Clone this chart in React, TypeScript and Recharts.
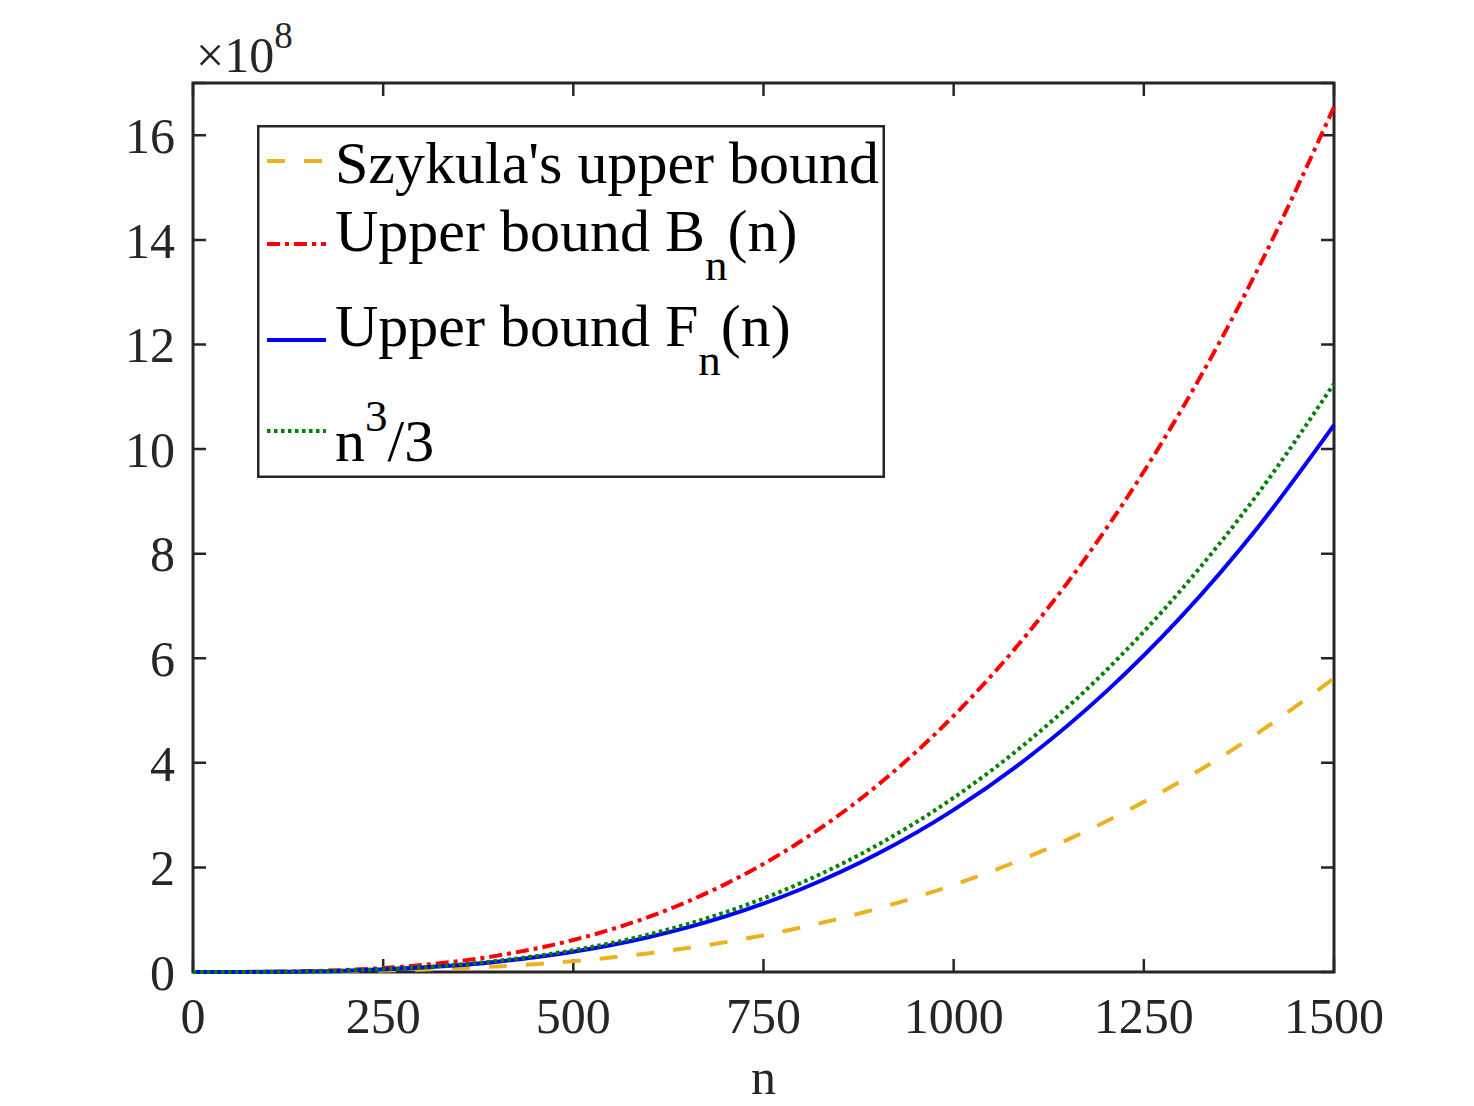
import { LineChart, Line, XAxis, YAxis, CartesianGrid, ReferenceArea, Legend } from "recharts";

// values, in units of 10^8
const nValues = [0, 100, 200, 300, 400, 500, 600, 700, 800, 900, 1000, 1100, 1200, 1300, 1400, 1500];
const szykula = [0, 0.002, 0.013, 0.045, 0.107, 0.208, 0.36, 0.571, 0.853, 1.214, 1.665, 2.216, 2.877, 3.658, 4.569, 5.62];
const boundB = [0, 0.005, 0.039, 0.132, 0.313, 0.612, 1.058, 1.681, 2.509, 3.572, 4.9, 6.522, 8.467, 10.765, 13.446, 16.54];
const boundF = [0, 0.003, 0.025, 0.084, 0.198, 0.388, 0.67, 1.063, 1.587, 2.26, 3.1, 4.126, 5.357, 6.811, 8.506, 10.46];
const cubeThird = [0, 0.003, 0.027, 0.09, 0.213, 0.417, 0.72, 1.143, 1.707, 2.43, 3.333, 4.437, 5.76, 7.323, 9.147, 11.25];

const xTicks = [0, 250, 500, 750, 1000, 1250, 1500];
const yTicks = [0, 2, 4, 6, 8, 10, 12, 14, 16];

const data = nValues.map((n, i) => ({
  n,
  szykula: szykula[i],
  boundB: boundB[i],
  boundF: boundF[i],
  cubeThird: cubeThird[i],
}));

const W = 1474;
const H = 1106;
const PLOT_W = 1141;
const PLOT_H = 889;
const TICK = 13;
const AXIS = "#262626";
const FONT = "Liberation Serif";

const series = [
  { key: "szykula", color: "#EDB120", dash: "18 19" },
  { key: "boundB", color: "#FF0000", dash: "13 5 4 5" },
  { key: "boundF", color: "#0000FF", dash: undefined },
  { key: "cubeThird", color: "#008000", dash: "3.5 3.5" },
];

function LegendBox() {
  const lineY = [36, 119, 215, 306];
  return (
    <svg width={628} height={353} style={{ display: "block", fontFamily: FONT }}>
      <rect x={1.25} y={1.25} width={625.5} height={350.5} fill="#FFFFFF" stroke={AXIS} strokeWidth={2.5} />
      {series.map((s, i) => (
        <line key={s.key} x1={10} x2={69} y1={lineY[i]} y2={lineY[i]} stroke={s.color} strokeWidth={4} strokeDasharray={s.dash} />
      ))}
      <text x={78} y={58} fontSize={60} fill="#000">Szykula's upper bound</text>
      <text x={78} y={126} fontSize={60} fill="#000">
        Upper bound B<tspan fontSize={45} dy={29}>n</tspan><tspan dy={-29}>(n)</tspan>
      </text>
      <text x={78} y={221} fontSize={60} fill="#000">
        Upper bound F<tspan fontSize={45} dy={29}>n</tspan><tspan dy={-29}>(n)</tspan>
      </text>
      <text x={78} y={336} fontSize={60} fill="#000">
        n<tspan fontSize={45} dy={-30}>3</tspan><tspan dy={30}>/3</tspan>
      </text>
    </svg>
  );
}

export default function App() {
  const tickStyle = { fontSize: 50, fill: AXIS, fontFamily: FONT };
  return (
    <div style={{ position: "absolute", left: 0, top: 0, width: W, height: H, background: "#FFFFFF", fontFamily: FONT }}>
      <LineChart width={W} height={H} data={data} margin={{ top: 83, right: 140, bottom: 54, left: 113 }}>
        <CartesianGrid horizontal vertical={false} stroke={AXIS} strokeWidth={2.5} strokeDasharray={`${TICK} ${PLOT_W - 2 * TICK} ${TICK}`} />
        <CartesianGrid horizontal={false} vertical stroke={AXIS} strokeWidth={2.5} strokeDasharray={`${TICK} ${PLOT_H - 2 * TICK} ${TICK}`} />
        <XAxis
          dataKey="n"
          type="number"
          domain={[0, 1500]}
          ticks={xTicks}
          interval={0}
          height={80}
          tickSize={0}
          tickLine={false}
          tickMargin={25}
          axisLine={false}
          tick={tickStyle}
          label={{ value: "n", position: "bottom", offset: 6, fontSize: 50, fill: AXIS, fontFamily: FONT }}
        />
        <YAxis
          type="number"
          domain={[0, 17]}
          ticks={yTicks}
          interval={0}
          width={80}
          tickSize={0}
          tickLine={false}
          tickMargin={18}
          axisLine={false}
          tick={tickStyle}
        />
        {series.map((s) => (
          <Line
            key={s.key}
            dataKey={s.key}
            type="monotone"
            stroke={s.color}
            strokeWidth={4}
            strokeDasharray={s.dash}
            dot={false}
            activeDot={false}
            isAnimationActive={false}
            legendType="none"
          />
        ))}
        <ReferenceArea x1={0} x2={1500} y1={0} y2={17} fill="none" fillOpacity={0} stroke={AXIS} strokeWidth={3} />
        <Legend
          layout="horizontal"
          verticalAlign="middle"
          align="center"
          content={<LegendBox />}
          wrapperStyle={{ position: "absolute", left: 257, top: 125, width: 628, height: 353 }}
        />
      </LineChart>
      <svg width={200} height={90} style={{ position: "absolute", left: 0, top: 0, overflow: "visible" }}>
        <text x={196} y={72} fontSize={50} fill={AXIS} fontFamily={FONT}>
          ×10<tspan fontSize={37} dy={-24}>8</tspan>
        </text>
      </svg>
    </div>
  );
}
